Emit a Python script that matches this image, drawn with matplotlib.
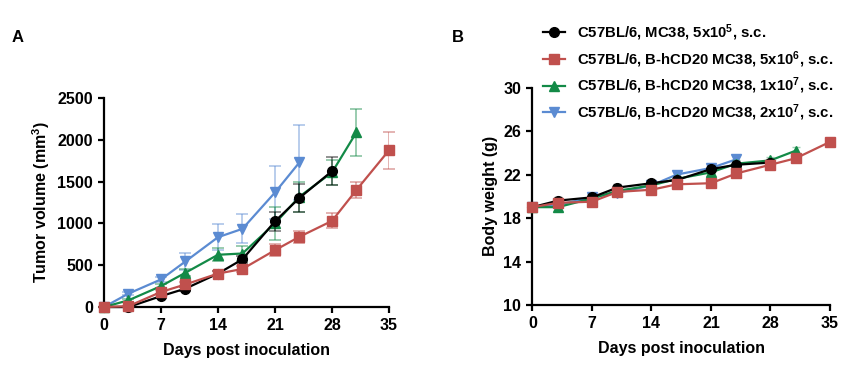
import numpy as np
import matplotlib
matplotlib.use('Agg')
import matplotlib.pyplot as plt

plt.rcParams['font.family'] = ['Liberation Sans', 'DejaVu Sans']
plt.rcParams['font.weight'] = 'bold'
plt.rcParams['mathtext.fontset'] = 'custom'
plt.rcParams['mathtext.bf'] = 'Liberation Sans:bold'
plt.rcParams['mathtext.rm'] = 'Liberation Sans:bold'
plt.rcParams['mathtext.default'] = 'bf'

# days for each group
days_black = [0, 3, 7, 10, 14, 17, 21, 24, 28]
days_red = [0, 3, 7, 10, 14, 17, 21, 24, 28, 31, 35]
days_green = [0, 3, 7, 10, 14, 17, 21, 24, 28, 31]
days_blue = [0, 3, 7, 10, 14, 17, 21, 24]

# tumor volume (mm3) mean and error
tv_black = [0, 0, 130, 220, 400, 570, 1025, 1305, 1625]
tv_black_err = [0, 5, 20, 25, 30, 40, 115, 165, 165]
tv_red = [0, 10, 180, 270, 400, 455, 680, 840, 1030, 1400, 1875]
tv_red_err = [0, 5, 20, 25, 30, 40, 70, 70, 90, 95, 220]
tv_green = [0, 80, 250, 410, 625, 640, 1000, 1320, 1610, 2090]
tv_green_err = [0, 15, 25, 40, 80, 90, 200, 180, 150, 280]
tv_blue = [0, 160, 330, 545, 835, 935, 1370, 1730]
tv_blue_err = [0, 20, 30, 100, 155, 175, 320, 450]

# body weight (g)
bw_black = [19.0, 19.6, 19.9, 20.8, 21.2, 21.5, 22.5, 22.9, 23.1]
bw_red = [19.0, 19.4, 19.5, 20.4, 20.6, 21.1, 21.2, 22.1, 22.9, 23.5, 25.0]
bw_green = [19.0, 19.0, 19.8, 20.5, 21.0, 21.6, 22.2, 23.0, 23.3, 24.2]
bw_blue = [19.0, 19.2, 19.9, 20.3, 21.0, 22.0, 22.6, 23.4]
bw_err = 0.3

labels = ['C57BL/6, MC38, 5x10$^5$, s.c.',
          'C57BL/6, B-hCD20 MC38, 5x10$^6$, s.c.',
          'C57BL/6, B-hCD20 MC38, 1x10$^7$, s.c.',
          'C57BL/6, B-hCD20 MC38, 2x10$^7$, s.c.']

col_black = '#000000'
col_red = '#C0504D'
col_green = '#138A47'
col_blue = '#5B8BD2'

groups = [
    (days_black, tv_black, tv_black_err, bw_black, col_black, 'o', labels[0], 4),
    (days_red, tv_red, tv_red_err, bw_red, col_red, 's', labels[1], 5),
    (days_green, tv_green, tv_green_err, bw_green, col_green, '^', labels[2], 3),
    (days_blue, tv_blue, tv_blue_err, bw_blue, col_blue, 'v', labels[3], 2),
]

fig = plt.figure(figsize=(8.58, 3.69), dpi=100)
axA = fig.add_axes([0.1212, 0.168, 0.3322, 0.5664])
axB = fig.add_axes([0.6206, 0.1734, 0.3467, 0.5894])

handles = []
for d, tv, err, bw, c, m, lab, z in groups:
    axA.errorbar(d, tv, yerr=err, fmt='none', ecolor=c, alpha=0.5,
                 elinewidth=1.2, capsize=4, capthick=1.2, zorder=z)
    axA.plot(d, tv, color=c, marker=m, markersize=7, lw=1.6, zorder=z + 0.5)
    axB.errorbar(d, bw, yerr=bw_err, fmt='none', ecolor=c, alpha=0.4,
                 elinewidth=1.0, capsize=3, zorder=z)
    h, = axB.plot(d, bw, color=c, marker=m, markersize=7, lw=1.6,
                  zorder=z + 0.5, label=lab)
    handles.append(h)

for ax in (axA, axB):
    ax.spines['top'].set_visible(False)
    ax.spines['right'].set_visible(False)
    ax.spines['left'].set_linewidth(1.6)
    ax.spines['bottom'].set_linewidth(1.6)
    ax.tick_params(width=1.6, length=4, labelsize=11.5, pad=4)
    ax.set_xlim(0, 35)
    ax.set_xticks(range(0, 36, 7))
    ax.set_xlabel('Days post inoculation', fontsize=11.5, fontweight='bold', labelpad=7)
    for t in ax.get_xticklabels() + ax.get_yticklabels():
        t.set_fontweight('bold')

axA.set_ylim(0, 2500)
axA.set_yticks(range(0, 2501, 500))
axA.set_ylabel('Tumor volume (mm$^3$)', fontsize=11.5, fontweight='bold', labelpad=4)
for line in axA.lines:
    line.set_clip_on(False)

axB.set_ylim(10, 30)
axB.set_yticks(range(10, 31, 4))
axB.set_ylabel('Body weight (g)', fontsize=11.5, fontweight='bold', labelpad=4)
for line in axB.lines:
    line.set_clip_on(False)

leg = fig.legend(handles=handles, loc='upper left', bbox_to_anchor=(0.626, 0.955),
                 frameon=False, fontsize=10.7, handlelength=1.45, handletextpad=0.85,
                 labelspacing=0.4, borderaxespad=0)

fig.text(18 / 858, 1 - 37 / 369, 'A', fontsize=12, fontweight='bold', ha='center', va='center')
fig.text(458 / 858, 1 - 37 / 369, 'B', fontsize=12, fontweight='bold', ha='center', va='center')

fig.savefig('out.png', dpi=100)
